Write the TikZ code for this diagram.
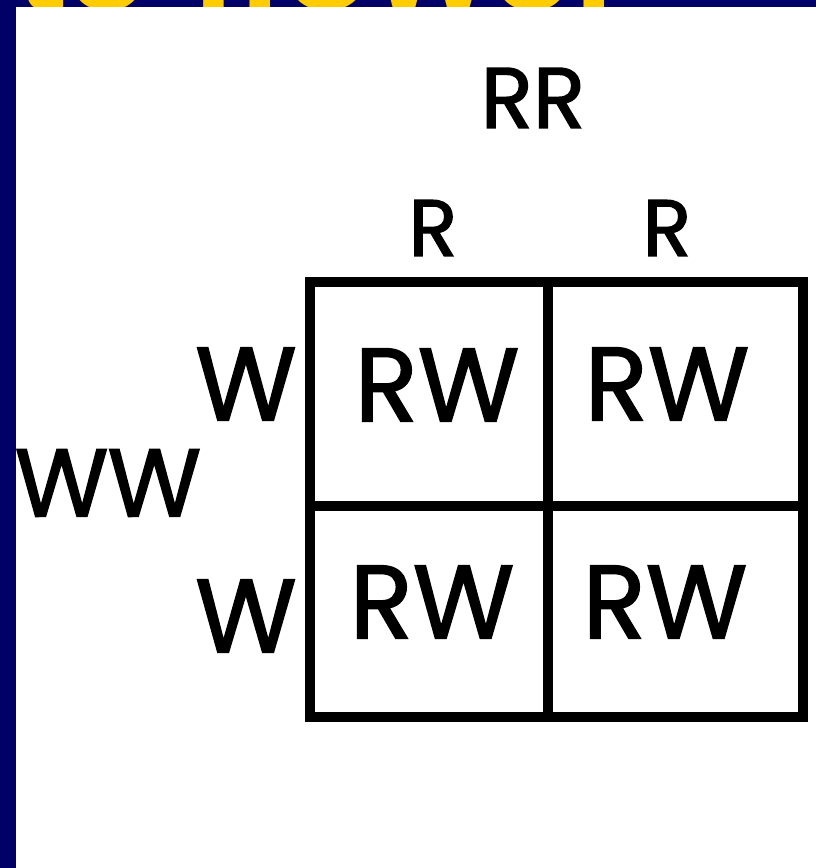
\documentclass[tikz,border=0pt]{standalone}
\usepackage{fontspec}
\setmainfont{Poppins}[FakeBold=1.6]
\newfontfamily\titlefont{Liberation Sans}
\definecolor{navy}{RGB}{0,0,102}
\definecolor{titleyellow}{RGB}{255,204,0}
\begin{document}
\begin{tikzpicture}[x=1pt,y=-1pt,
  gridline/.style={line width=10pt,line cap=rect,black},
  biglabel/.style={inner sep=0pt,font=\fontsize{104}{104}\selectfont},
  midlabel/.style={inner sep=0pt,font=\fontsize{80}{80}\selectfont},
  toplabel/.style={inner sep=0pt,font=\fontsize{86}{86}\selectfont}]
\useasboundingbox (0,0) rectangle (816,868);
\fill[navy] (0,0) rectangle (816,868);
\node[anchor=base east,inner sep=0pt,text=titleyellow,font=\titlefont\bfseries\fontsize{150}{150}\selectfont] (title) at (632,9) {te flower};
\fill[white] (16,7) rectangle (816,868);
% grid
\coordinate (tl) at (310,282);
\coordinate (br) at (803,717);
\draw[gridline] (tl) rectangle (br);
\coordinate (vt) at (548,282);
\coordinate (vb) at (548,717);
\coordinate (hl) at (310,506);
\coordinate (hr) at (803,506);
\draw[gridline] (vt) -- (vb);
\draw[gridline] (hl) -- (hr);
% labels
\node[toplabel] (rr) at (533,98) {RR};
\node[midlabel] (r1) at (433,228) {R};
\node[midlabel] (r2) at (667,228) {R};
\node[biglabel] (w1) at (246,384) {W};
\node[biglabel,font=\fontsize{96}{96}\selectfont] (ww) at (108,483) {W\kern-1pt W};
\node[biglabel] (w2) at (246,616) {W};
\node[biglabel] (c11) at (437,385) {RW};
\node[biglabel] (c12) at (667,384) {RW};
\node[biglabel] (c21) at (432,602) {RW};
\node[biglabel] (c22) at (665,602) {RW};
\end{tikzpicture}
\end{document}
